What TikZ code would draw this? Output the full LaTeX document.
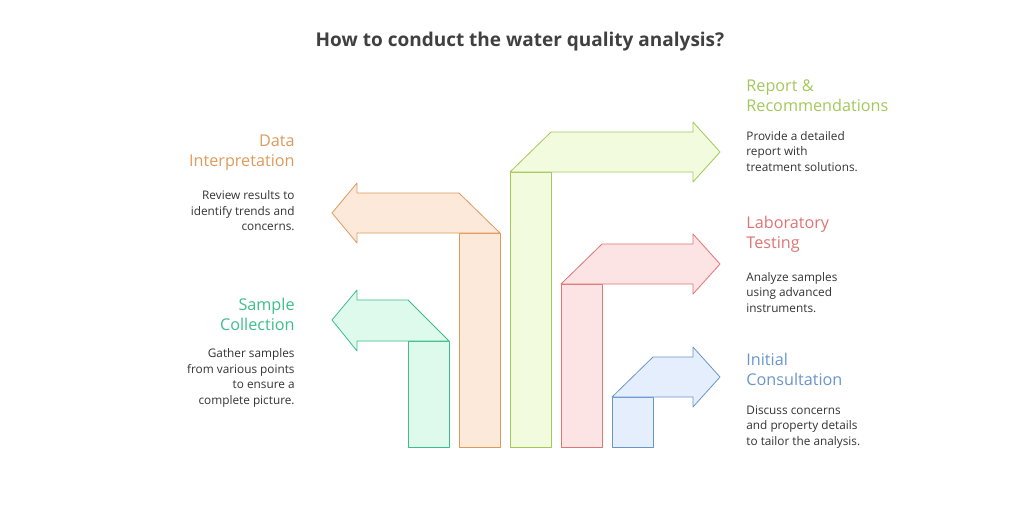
\documentclass[tikz,border=0pt]{standalone}
\usepackage{fontspec}
\setmainfont{Open Sans}
\usepackage{tikz}
\usetikzlibrary{positioning}

\definecolor{grn}{HTML}{3DBD8C}
\definecolor{grnf}{HTML}{DDFAEC}
\definecolor{org}{HTML}{DE9A5C}
\definecolor{orgf}{HTML}{FDE9DA}
\definecolor{lim}{HTML}{A2C85A}
\definecolor{limf}{HTML}{F3FBDF}
\definecolor{rd}{HTML}{DE7474}
\definecolor{rdf}{HTML}{FDE4E4}
\definecolor{blu}{HTML}{6A95CB}
\definecolor{bluf}{HTML}{E4EEFC}

\begin{document}
\begin{tikzpicture}[
        x = 1pt, y = -1pt, % pixel grid, y downwards
        line join = round,
        thick
    ]

    \tikzset{
        title/.style = {font=\bfseries\fontsize{19}{22}\selectfont, text=black!75},
        head/.style = {font=\fontsize{16.2}{20}\selectfont, inner sep=0pt},
        desc/.style = {font=\fontsize{11.8}{15.5}\selectfont, text=black!80, inner sep=0pt},
        rlab/.style = {anchor=north west, align=left},
        llab/.style = {anchor=north east, align=right}
    }

    \useasboundingbox (0,0) rectangle (1024,524);

    \node[title] (t) at (520,42) {How to conduct the water quality analysis?};

    % arrows
    \draw[draw=grn, fill=grnf] (408,447) rectangle (449,341);
    \draw[draw=grn, fill=grnf] (449,341) -- (357,341) -- (357,351) -- (332,320) -- (357,290) -- (357,300) -- (408,300) -- cycle;

    \draw[draw=org, fill=orgf] (459,447) rectangle (500,233);
    \draw[draw=org, fill=orgf] (500,233) -- (357,233) -- (357,243) -- (332,213) -- (357,183) -- (357,193) -- (459,193) -- cycle;

    \draw[draw=lim, fill=limf] (510,447) rectangle (551,172);
    \draw[draw=lim, fill=limf] (510,172) -- (693,172) -- (693,182) -- (720,152) -- (693,122) -- (693,132) -- (551,132) -- cycle;

    \draw[draw=rd, fill=rdf] (561,447) rectangle (602,284);
    \draw[draw=rd, fill=rdf] (561,284) -- (693,284) -- (693,294) -- (720,264) -- (693,234) -- (693,244) -- (602,244) -- cycle;

    \draw[draw=blu, fill=bluf] (612,447) rectangle (653,397);
    \draw[draw=blu, fill=bluf] (612,397) -- (693,397) -- (693,407) -- (720,377) -- (693,347) -- (693,357) -- (653,357) -- cycle;

    % labels right
    \node[head, rlab, text=lim] (rep) at (746,79) {Report \&\\Recommendations};
    \node[desc, rlab] (repd) [below=19pt of rep.south west, anchor=north west] {Provide a detailed\\report with\\treatment solutions.};

    \node[head, rlab, text=rd] (lab) at (746,216) {Laboratory\\Testing};
    \node[desc, rlab] (labd) [below=19pt of lab.south west, anchor=north west] {Analyze samples\\using advanced\\instruments.};

    \node[head, rlab, text=blu] (ini) at (746,353) {Initial\\Consultation};
    \node[desc, rlab] (inid) [below=19pt of ini.south west, anchor=north west] {Discuss concerns\\and property details\\to tailor the analysis.};

    % labels left
    \node[head, llab, text=org] (dat) at (295,135) {Data\\Interpretation};
    \node[desc, llab] (datd) [below=19pt of dat.south east, anchor=north east] {Review results to\\identify trends and\\concerns.};

    \node[head, llab, text=grn] (sam) at (295,298) {Sample\\Collection};
    \node[desc, llab] (samd) [below=17pt of sam.south east, anchor=north east] {Gather samples\\from various points\\to ensure a\\complete picture.};

\end{tikzpicture}
\end{document}
